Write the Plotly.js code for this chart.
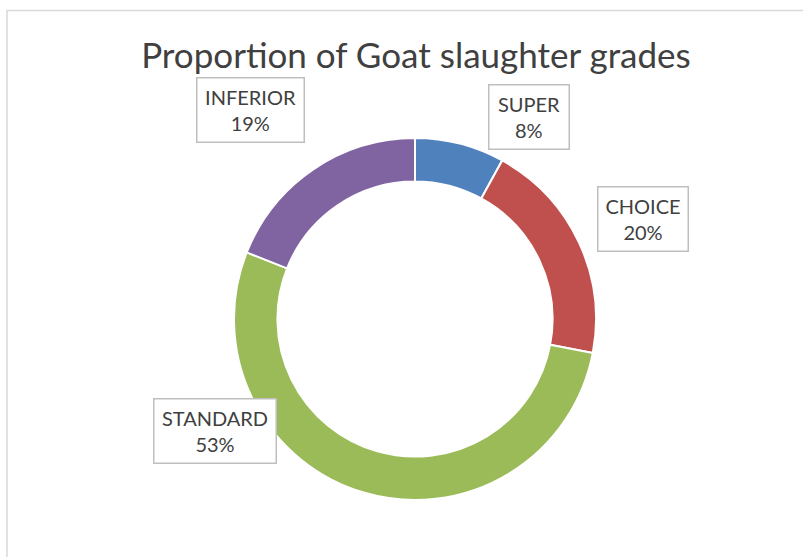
<!DOCTYPE html>
<html>
<head>
<meta charset="utf-8">
<script src="https://cdn.plot.ly/plotly-3.0.1.min.js"></script>
<style>
  html, body { margin: 0; padding: 0; background: #fff; }
  #chart { width: 803px; height: 557px; }
</style>
</head>
<body>
<div id="chart"></div>
<script>
// Slaughter grades (share of goats, %)
const grades = ["SUPER", "CHOICE", "STANDARD", "INFERIOR"];
const shares = [8, 20, 53, 19];
const colors = ["#4F81BD", "#C0504D", "#9BBB59", "#8064A2"];

// Label box placement (paper coords) and size in px
const boxX = [0.659, 0.801, 0.268, 0.3125];
const boxY = [0.790, 0.606, 0.227, 0.802];
const boxW = [79, 89, 121, 106];

const pieTrace = {
  type: "pie",
  labels: grades,
  values: shares,
  hole: 0.76,
  sort: false,
  direction: "clockwise",
  rotation: 0,
  textinfo: "none",
  hoverinfo: "label+percent",
  marker: {
    colors: colors,
    line: { color: "#ffffff", width: 2 },
  },
  domain: { x: [0.2914, 0.7422], y: [0.1023, 0.7522] },
};

const total = shares.reduce((a, b) => a + b, 0);

// Labels in boxes, same as the data labels in the original
const labelNotes = grades.map((g, i) => ({
  xref: "paper",
  yref: "paper",
  x: boxX[i],
  y: boxY[i],
  xanchor: "center",
  yanchor: "middle",
  showarrow: false,
  text: g + "<br>" + Math.round((shares[i] / total) * 100) + "%",
  font: { family: "Lato, 'Open Sans', sans-serif", size: 20, color: "#404040" },
  bgcolor: "#ffffff",
  bordercolor: "#BFBFBF",
  borderwidth: 1.5,
  borderpad: 0,
  width: boxW[i],
  height: 63,
}));

const layout = {
  width: 803,
  height: 557,
  margin: { l: 0, r: 0, t: 0, b: 0 },
  paper_bgcolor: "#ffffff",
  showlegend: false,
  title: {
    text: "Proportion of Goat slaughter grades",
    font: { family: "Lato, 'Open Sans', sans-serif", size: 35, color: "#404040" },
    x: 0.518,
    xanchor: "center",
    y: 0.9,
    yanchor: "middle",
  },
  annotations: labelNotes,
  shapes: [
    {
      type: "rect",
      xref: "paper",
      yref: "paper",
      x0: 0.0087,
      x1: 1.02,
      y0: -0.02,
      y1: 0.981,
      line: { color: "#D9D9D9", width: 1.5 },
    },
  ],
};

Plotly.newPlot("chart", [pieTrace], layout, { displayModeBar: false });
</script>
</body>
</html>
